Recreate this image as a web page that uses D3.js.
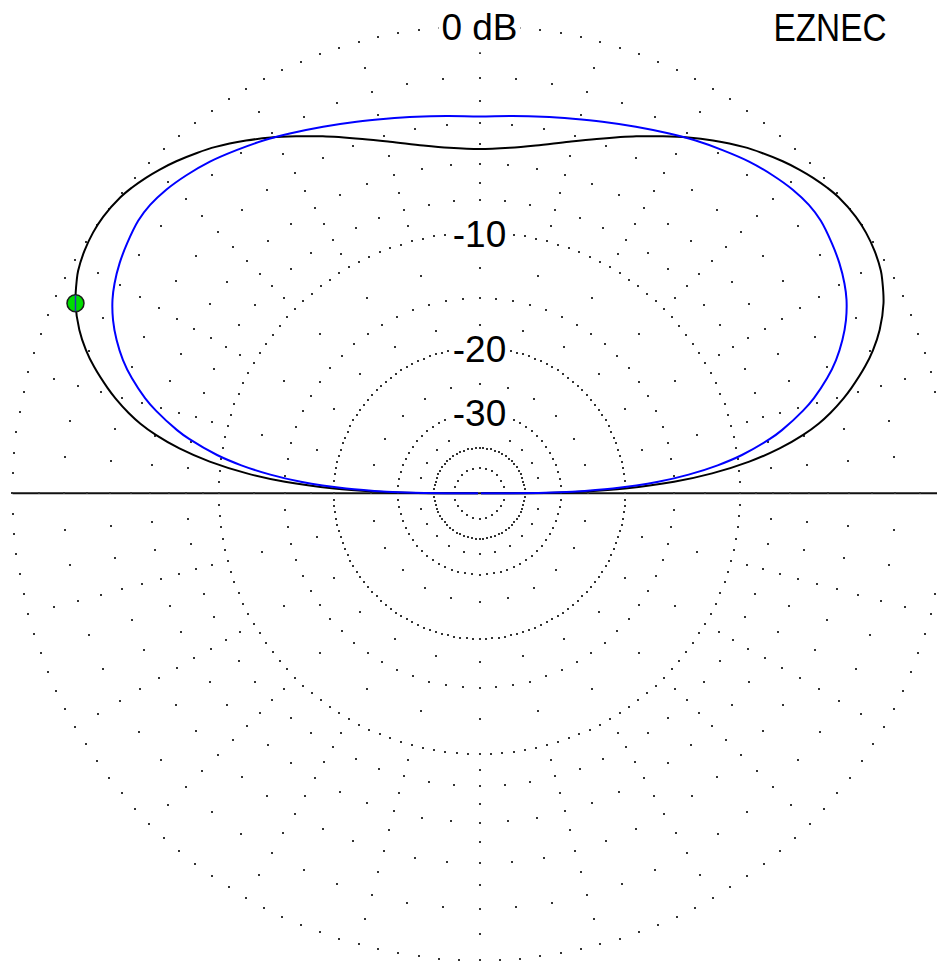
<!DOCTYPE html>
<html><head><meta charset="utf-8">
<script src="https://cdn.jsdelivr.net/npm/d3@7/dist/d3.min.js"></script>
<style>html,body{margin:0;padding:0;background:#fff;overflow:hidden}</style>
</head><body>
<svg id="chart" width="937" height="967"></svg>
<script>
// ---------------- data ----------------
const ringLevels   = [0, -2, -4, -6, -8, -10, -15, -20, -30, -40, -50];   // dB
const ringDotStep  = [2.5, 5, 5, 5, 5, 2.5, 5, 2.5, 5, 5, 15];            // degrees between dots
const radialAngles = [0,15,30,45,60,75,90,105,120,135,150,165,180,195,210,225,240,255,270,285,300,315,330,345];
const radialDotLevels = [-1,-2,-3,-4,-5,-6,-7,-8,-9,-12.5,-17.5,-25,-35];
const ringLabelLevels = [0, -10, -20, -30];
const ringLabels      = ["0 dB", "-10", "-20", "-30"];
const titleText = "EZNEC";

// elevation angle (deg, 0 = left horizon, 90 = zenith, 180 = right horizon) and gain (dB)
const blackAngles = [0,0.5,1,1.9,3.4,4.9,6.7,8.5,10.2,11.6,12.9,14.6,15.8,18.2,20,22.2,25.2,27.9,29,31.5,34,36.3,39.5,41.3,43.4,45.3,47.6,50.3,52.7,56.5,59.6,62.8,66.3,71.7,75.7,80.8,85,90,
  95,99.2,104.3,108.3,113.7,117.2,120.4,123.5,127.3,129.7,132.4,134.7,136.6,138.7,140.5,143.7,146,148.5,151,152.1,154.8,157.8,160,161.8,164.2,165.4,167.1,168.4,169.8,171.5,173.3,175.1,176.6,178.1,179,179.5,180];
const blackDb = [-99,-31.5,-25.5,-20.0,-15.0,-11.9,-9.3,-7.4,-6.04,-5.14,-4.47,-3.72,-3.25,-2.41,-1.87,-1.33,-0.77,-0.42,-0.30,-0.13,-0.03,0,-0.06,-0.15,-0.29,-0.44,-0.65,-0.93,-1.20,-1.70,-2.13,-2.60,-3.10,-3.85,-4.33,-4.83,-5.10,-5.23,
  -5.10,-4.83,-4.33,-3.85,-3.10,-2.60,-2.13,-1.70,-1.20,-0.93,-0.65,-0.44,-0.29,-0.15,-0.06,0,-0.03,-0.13,-0.30,-0.42,-0.77,-1.33,-1.87,-2.41,-3.25,-3.72,-4.47,-5.14,-6.04,-7.4,-9.3,-11.9,-15.0,-20.0,-25.5,-31.5,-99];

const blueAngles = [0,0.5,1,2.05,3.7,5.1,6.7,8.3,10.6,11.8,14.3,15.9,18.3,20.5,22.9,25.3,27.8,29.9,32.6,35.3,38.6,41.2,44.1,47.4,50.9,54.7,58.5,62.2,66.9,71.7,76,80.5,85,90,
  95,99.5,104,108.3,113.1,117.8,121.5,125.3,129.1,132.6,135.9,138.8,141.4,144.7,147.4,150.1,152.2,154.7,157.1,159.5,161.7,164.1,165.7,168.2,169.4,171.7,173.3,174.9,176.3,177.95,179,179.5,180];
const blueDb = [-99,-33.7,-27.7,-21.5,-16.45,-13.72,-11.44,-9.71,-7.86,-7.09,-5.77,-5.06,-4.18,-3.51,-2.92,-2.43,-2.03,-1.78,-1.53,-1.34,-1.15,-1.11,-1.17,-1.32,-1.52,-1.80,-2.08,-2.37,-2.72,-3.03,-3.27,-3.46,-3.6,-3.68,
  -3.6,-3.46,-3.27,-3.03,-2.72,-2.37,-2.08,-1.80,-1.52,-1.32,-1.17,-1.11,-1.15,-1.34,-1.53,-1.78,-2.03,-2.43,-2.92,-3.51,-4.18,-5.06,-5.77,-7.09,-7.86,-9.71,-11.44,-13.72,-16.45,-21.5,-27.7,-33.7,-99];

const cursorAngle = 25.2;
const cursorDb = -0.77;

// ---------------- layout ----------------
const W = 937, H = 967;
const cx = 479.5, cy = 493.3, R = 467;
const svg = d3.select("#chart");
svg.append("rect").attr("width", W).attr("height", H).attr("fill", "#fff");

// ARRL log-periodic scale: radius falls by 0.89 every 2 dB -> linear in ln(r)
const lnR = d3.scaleLinear().domain([0, -10]).range([Math.log(R), Math.log(R) + 5 * Math.log(0.89)]);
const rOf = db => Math.exp(lnR(db));
const ang = d3.scaleLinear().domain([0, 180]).range([-Math.PI / 2, Math.PI / 2]);
const pos = (a, db) => { const r = rOf(db), t = ang(a); return [cx + r * Math.sin(t), cy - r * Math.cos(t)]; };

const g = svg.append("g");

// grid dots
const dots = [];
ringLevels.forEach((lv, i) => {
  d3.range(0, 360, ringDotStep[i]).forEach(a => dots.push(pos(a, lv)));
});
radialAngles.forEach(a => radialDotLevels.forEach(lv => dots.push(pos(a, lv))));

// horizon line
g.append("line")
  .attr("x1", cx - R).attr("x2", W + 20)
  .attr("y1", cy).attr("y2", cy)
  .attr("stroke", "#111").attr("stroke-width", 2);

g.append("g").selectAll("rect").data(dots).join("rect")
  .attr("x", d => Math.round(d[0]) - 1).attr("y", d => Math.round(d[1]) - 1)
  .attr("width", 2).attr("height", 2)
  .attr("fill", "#333").attr("shape-rendering", "crispEdges");

// pattern curves
const line = d3.lineRadial()
  .angle(d => ang(d[0]))
  .radius(d => rOf(d[1]))
  .curve(d3.curveCatmullRom.alpha(0.5));

const curves = g.append("g").attr("transform", `translate(${cx},${cy})`);
curves.append("path")
  .datum(blackAngles.map((a, i) => [a, blackDb[i]]))
  .attr("d", line).attr("fill", "none").attr("stroke", "#000").attr("stroke-width", 2);
curves.append("path")
  .datum(blueAngles.map((a, i) => [a, blueDb[i]]))
  .attr("d", line).attr("fill", "none").attr("stroke", "#0000ff").attr("stroke-width", 2);

// ring labels with white background
const font = "'Liberation Sans', Arial, sans-serif";
ringLabelLevels.forEach((lv, i) => {
  const y = cy - rOf(lv) + 14;
  const t = g.append("text")
    .attr("x", cx).attr("y", y)
    .attr("text-anchor", "middle")
    .attr("font-family", font).attr("font-size", 37)
    .attr("fill", "#000")
    .text(ringLabels[i]);
  const bb = t.node().getBBox();
  g.insert("rect", () => t.node())
    .attr("x", bb.x - 3).attr("y", bb.y + 2)
    .attr("width", bb.width + 6).attr("height", bb.height + 2)
    .attr("fill", "#fff");
});

// title
svg.append("text")
  .attr("x", 830).attr("y", 41)
  .attr("text-anchor", "middle")
  .attr("font-family", font).attr("font-size", 38)
  .attr("textLength", 113).attr("lengthAdjust", "spacingAndGlyphs")
  .attr("fill", "#000")
  .text(titleText);

// cursor marker
const cp = pos(cursorAngle, cursorDb);
svg.append("circle")
  .attr("cx", cp[0]).attr("cy", cp[1]).attr("r", 8.5)
  .attr("fill", "#00dd00").attr("stroke", "#1a1a1a").attr("stroke-width", 1.5);
svg.append("line")
  .attr("x1", cp[0]).attr("x2", cp[0]).attr("y1", cp[1] - 8).attr("y2", cp[1] + 8)
  .attr("stroke", "#2a2ac0").attr("stroke-width", 1.5);
</script>
</body></html>
